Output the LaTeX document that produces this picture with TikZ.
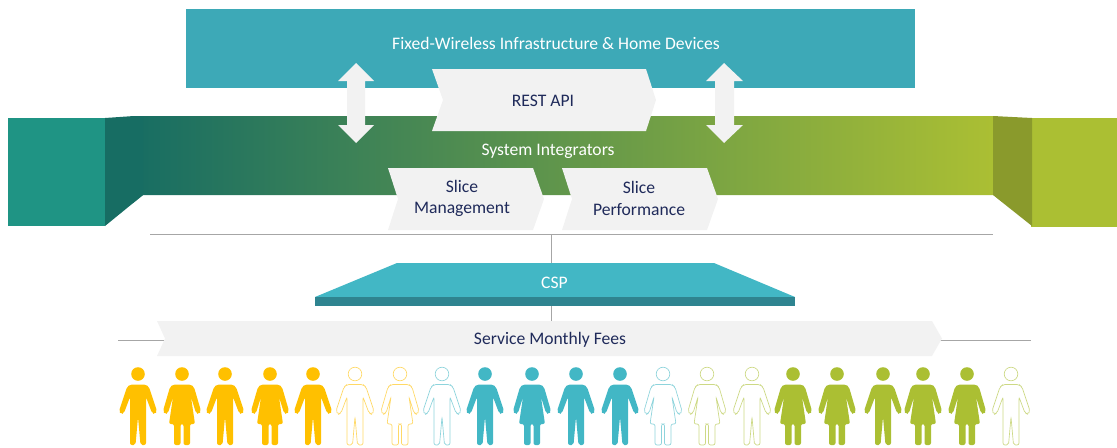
\documentclass[tikz,border=0pt]{standalone}
\usepackage{fontspec}
\setmainfont{Carlito}
\definecolor{topteal}{HTML}{3DA9B7}
\definecolor{cspteal}{HTML}{42B7C5}
\definecolor{cspdark}{HTML}{2F8490}
\definecolor{leftblock}{HTML}{1F9484}
\definecolor{leftside}{HTML}{176D63}
\definecolor{midgreen}{HTML}{5F9750}
\definecolor{limegreen}{HTML}{ABBF33}
\definecolor{rightside}{HTML}{8A9A2C}
\definecolor{palegrey}{HTML}{F2F2F2}
\definecolor{navytext}{HTML}{1F2A5A}
\definecolor{rulegrey}{HTML}{A6A6A6}
\definecolor{peopleyellow}{HTML}{FFC000}
\tikzset{
  man/.pic = {
    \path[pic actions] (0,0) circle (6.8);
    \path[pic actions, rounded corners=1.5] (-8,10.5) -- (8,10.5) -- (11,13) -- (19,37) -- (17,40.5) -- (14,39)
      -- (8,23) -- (8,71) -- (2.5,71) -- (0,43) -- (-2.5,71) -- (-8,71) -- (-8,23) -- (-14,39) -- (-17,40.5)
      -- (-19,37) -- (-11,13) -- cycle;},
  woman/.pic = {
    \path[pic actions] (0,0) circle (6.8);
    \path[pic actions, rounded corners=1.5] (-9,10.5) -- (9,10.5) -- (12,13) -- (19,37) -- (17,40.5) -- (14,39)
      -- (9,23) -- (13,50) -- (8,50) -- (8,71) -- (1.5,71) -- (1.5,50) -- (-1.5,50) -- (-1.5,71) -- (-8,71)
      -- (-8,50) -- (-13,50) -- (-9,23) -- (-14,39) -- (-17,40.5) -- (-19,37) -- (-12,13) -- cycle;}
}
\begin{document}
\begin{tikzpicture}[
      x = 0.75pt, y = -0.75pt,
  whitetext/.style = {text=white, font=\fontsize{13.2pt}{16pt}\selectfont, align=center},
   navytext/.style = {text=navytext, font=\fontsize{13.2pt}{16pt}\selectfont, align=center},
    chevron/.style = {fill=palegrey},
 solidfolk/.style = {fill=#1},
   linefolk/.style = {draw=#1!60, line width=0.5pt, fill=white}
                        ]
\useasboundingbox (0,0) rectangle (1117,447);
% top band
\fill[topteal] (186,9) rectangle (915,88);
% side blocks and the shaded band
\fill[leftblock] (8,118) rectangle (105,226);
\fill[leftside] (105,118) -- (134,116) -- (143,116) -- (143,195) -- (105,226) -- cycle;
\shade[left color=leftside, middle color=midgreen, right color=limegreen]
  (133,116) -- (994,116) -- (994,195) -- (143,195) -- (133,195) -- cycle;
\fill[leftside] (133,116) -- (143,116) -- (143,195) -- (133,203) -- cycle;
\fill[limegreen] (1031,118) rectangle (1117,227);
\fill[rightside] (993,116) -- (1032,118) -- (1032,226) -- (993,195) -- cycle;
% double arrows
\fill[palegrey] (356,63) -- (374,81) -- (365,81) -- (365,125) -- (374,125) -- (356,143)
  -- (338,125) -- (347,125) -- (347,81) -- (338,81) -- cycle;
\fill[palegrey] (724,63) -- (743,81) -- (734,81) -- (734,125) -- (743,125) -- (724,143)
  -- (706,125) -- (715,125) -- (715,81) -- (706,81) -- cycle;
% chevrons
\fill[chevron] (432,69) -- (646,69) -- (656,100) -- (646,131) -- (432,131) -- (443,100) -- cycle;
\fill[chevron] (388,168) -- (533,168) -- (544,199) -- (533,230) -- (388,230) -- (398,199) -- cycle;
\fill[chevron] (562,168) -- (707,168) -- (718,199) -- (707,230) -- (562,230) -- (572,199) -- cycle;
% grey rules
\coordinate (ruleleft) at (150,234.5);
\coordinate (ruleright) at (993,234.5);
\coordinate (stemtop) at (551.5,234.5);
\coordinate (stembottom) at (551.5,321);
\coordinate (feeleft) at (118,340);
\coordinate (feeright) at (1031,340);
\draw[rulegrey, line width=0.75pt] (ruleleft) -- (ruleright);
\draw[rulegrey, line width=0.75pt] (stemtop) -- (stembottom);
\draw[rulegrey, line width=0.75pt] (feeleft) -- (feeright);
% CSP slab
\fill[cspteal] (397,263) -- (714,263) -- (795,297) -- (315,297) -- cycle;
\fill[cspdark] (315,297) rectangle (795,306);
% fee bar
\fill[chevron] (157,321) -- (932,321) -- (942,338.5) -- (932,356) -- (157,356) -- (165,338.5) -- cycle;
% labels
\node (infra) [whitetext] at (556,43) {Fixed-Wireless Infrastructure \& Home Devices};
\node (rest) [navytext] at (543,100.5) {REST API};
\node (integrators) [whitetext] at (548,151.5) {System Integrators};
\node (slicemgmt) [navytext, text width=110pt] at (462,198.5) {Slice\\[0pt]Management};
\node (sliceperf) [navytext, text width=110pt] at (639,198.5) {Slice\\[0pt]Performance};
\node (csp) [whitetext] at (554.5,283) {CSP};
\node (fees) [navytext] at (550,339.5) {Service Monthly Fees};
% people
\pic[solidfolk=peopleyellow] at (138,374) {man};
\pic[solidfolk=peopleyellow] at (182,374) {woman};
\pic[solidfolk=peopleyellow] at (225,374) {man};
\pic[solidfolk=peopleyellow] at (270,374) {woman};
\pic[solidfolk=peopleyellow] at (313,374) {man};
\pic[linefolk=peopleyellow] at (355,374) {man};
\pic[linefolk=peopleyellow] at (400,374) {woman};
\pic[linefolk=cspteal] at (442,374) {man};
\pic[solidfolk=cspteal] at (485,374) {man};
\pic[solidfolk=cspteal] at (532,374) {woman};
\pic[solidfolk=cspteal] at (576,374) {man};
\pic[solidfolk=cspteal] at (620,374) {man};
\pic[linefolk=cspteal] at (663,374) {woman};
\pic[linefolk=limegreen] at (707,374) {woman};
\pic[linefolk=limegreen] at (752,374) {man};
\pic[solidfolk=limegreen] at (793,374) {woman};
\pic[solidfolk=limegreen] at (837,374) {woman};
\pic[solidfolk=limegreen] at (883,374) {man};
\pic[solidfolk=limegreen] at (923,374) {woman};
\pic[solidfolk=limegreen] at (967,374) {woman};
\pic[linefolk=limegreen] at (1011,374) {man};
\end{tikzpicture}
\end{document}
